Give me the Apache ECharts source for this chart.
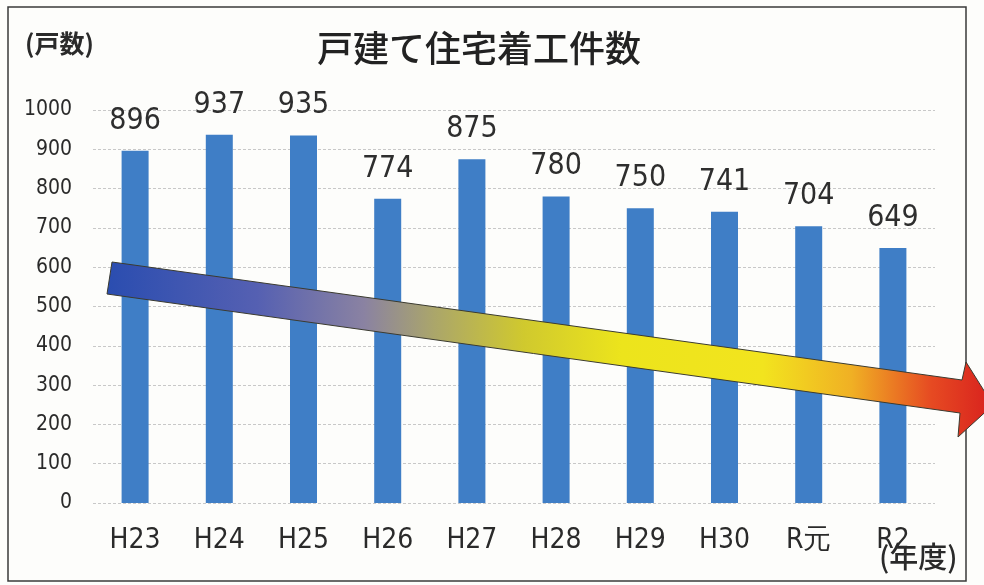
<!DOCTYPE html>
<html>
<head>
<meta charset="utf-8">
<script src="https://cdn.jsdelivr.net/npm/echarts@6/dist/echarts.min.js"></script>
<style>
html,body{margin:0;padding:0;background:#fdfdfb;}
#chart{width:984px;height:585px;}
</style>
</head>
<body>
<div id="chart"></div>
<script>
const categories = ['H23','H24','H25','H26','H27','H28','H29','H30','R元','R2'];
const values = [896, 937, 935, 774, 875, 780, 750, 741, 704, 649];
const yTicks = [0,100,200,300,400,500,600,700,800,900,1000];

const NARROW = "'Liberation Sans Narrow','Arial Narrow','DejaVu Sans Condensed',sans-serif";
const JP = "'Noto Sans CJK JP','Noto Sans',sans-serif";

const chart = echarts.init(document.getElementById('chart'), null, {renderer:'canvas'});

const option = {
  backgroundColor: '#fdfdfb',
  animation: false,
  grid: {left: 93, right: 49, top: 110, bottom: 82, containLabel: false},
  xAxis: {
    type: 'category',
    data: categories,
    axisLine: {show: false},
    axisTick: {show: false},
    axisLabel: {color: '#2a2a2a', fontFamily: NARROW, fontSize: 28, margin: 24}
  },
  yAxis: {
    type: 'value',
    min: yTicks[0], max: yTicks[yTicks.length-1], interval: 100,
    axisLine: {show: false},
    axisTick: {show: false},
    axisLabel: {color: '#2a2a2a', fontFamily: NARROW, fontSize: 21, margin: 21, formatter: v => String(v)},
    splitLine: {lineStyle: {color: '#c8c8c8', type: [3,2], width: 1}}
  },
  series: [{
    type: 'bar',
    data: values,
    barWidth: 27,
    itemStyle: {color: '#3f7ec6'},
    label: {show: true, position: 'top', distance: 15, color: '#2e2e2e', fontFamily: NARROW, fontSize: 30}
  }],
  graphic: [
    {type: 'rect', shape: {x: 8, y: 7, width: 958, height: 574}, style: {fill: 'none', stroke: '#3a3a3a', lineWidth: 1.5}, z: 1},
    {type: 'text', left: 25, top: 31, style: {text: '(戸数)', fill: '#2a2a2a', font: 'bold 25px ' + JP}},
    {type: 'text', left: 317, top: 30, style: {text: '戸建て住宅着工件数', fill: '#222', font: '500 36px ' + JP}},
    {type: 'text', left: 879, top: 542, style: {text: '(年度)', fill: '#2a2a2a', font: '500 29px ' + JP}},
    {
      type: 'polygon', z: 100,
      shape: {points: [[112,262],[962,380],[966,362],[993,405],[958,437],[960,413],[107,294]]},
      style: {
        fill: new echarts.graphic.LinearGradient(0, 0, 1, 0, [
          {offset: 0, color: '#2a4db0'},
          {offset: 0.17, color: '#5560b2'},
          {offset: 0.29, color: '#8a82a2'},
          {offset: 0.37, color: '#aba66a'},
          {offset: 0.47, color: '#d0c92e'},
          {offset: 0.58, color: '#ece41c'},
          {offset: 0.74, color: '#f2e41e'},
          {offset: 0.84, color: '#f0b024'},
          {offset: 0.93, color: '#e64a22'},
          {offset: 1, color: '#d8201e'}
        ]),
        stroke: '#3b3b30', lineWidth: 1
      }
    }
  ]
};
chart.setOption(option);
</script>
</body>
</html>
